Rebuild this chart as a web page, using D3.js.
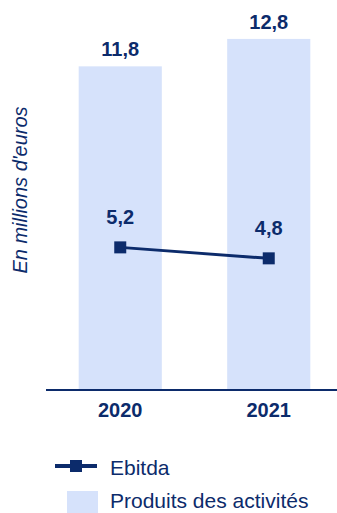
<!DOCTYPE html>
<html>
<head>
<meta charset="utf-8">
<script src="https://cdn.jsdelivr.net/npm/d3@7"></script>
<style>
  html, body { margin: 0; padding: 0; background: #fff; }
  svg { display: block; font-family: "Liberation Sans", Arial, sans-serif; }
</style>
</head>
<body>
<div id="chart"></div>
<script>
// Data
const years = ['2020', '2021'];
const produits = [11.8, 12.8];   // Produits des activités (bars)
const ebitda = [5.2, 4.8];       // Ebitda (line)
const yDomain = [0, 14];

const navy = '#0c2b6b';
const barFill = '#d6e2fb';

const width = 337, height = 513;
const baseY = 390;

const svg = d3.select('#chart')
    .append('svg')
    .attr('width', width)
    .attr('height', height);

const x = d3.scaleBand()
    .domain(years)
    .range([46, 343])
    .paddingInner(0.44)
    .paddingOuter(0.22);

const y = d3.scaleLinear()
    .domain(yDomain)
    .range([baseY, 6]);

const fmt = v => v.toFixed(1).replace('.', ',');

// Bars
svg.selectAll('rect.bar')
    .data(produits)
    .enter()
    .append('rect')
    .attr('class', 'bar')
    .attr('x', (d, i) => x(years[i]))
    .attr('y', d => y(d))
    .attr('width', x.bandwidth())
    .attr('height', d => y(0) - y(d))
    .attr('fill', barFill);

// Bar labels
svg.selectAll('text.bar-label')
    .data(produits)
    .enter()
    .append('text')
    .attr('class', 'bar-label')
    .attr('x', (d, i) => x(years[i]) + x.bandwidth() / 2)
    .attr('y', d => y(d) - 10)
    .attr('text-anchor', 'middle')
    .attr('fill', navy)
    .style('font-size', '20px')
    .style('font-weight', 'bold')
    .text(fmt);

// X axis
const xAxis = svg.append('g')
    .attr('transform', `translate(0, ${baseY})`)
    .call(d3.axisBottom(x).tickSize(0).tickPadding(13));
xAxis.select('.domain').remove();
xAxis.selectAll('text')
    .attr('fill', navy)
    .style('font-size', '20px')
    .style('font-weight', 'bold')
    .style('font-family', 'inherit');

svg.append('line')
    .attr('x1', 46)
    .attr('x2', width)
    .attr('y1', baseY)
    .attr('y2', baseY)
    .attr('stroke', navy)
    .attr('stroke-width', 2);

// Ebitda line
const cx = (d, i) => x(years[i]) + x.bandwidth() / 2;
const line = d3.line()
    .x(cx)
    .y(d => y(d));

svg.append('path')
    .datum(ebitda)
    .attr('d', line)
    .attr('fill', 'none')
    .attr('stroke', navy)
    .attr('stroke-width', 3);

svg.selectAll('rect.marker')
    .data(ebitda)
    .enter()
    .append('rect')
    .attr('class', 'marker')
    .attr('x', (d, i) => cx(d, i) - 6)
    .attr('y', d => y(d) - 6)
    .attr('width', 12)
    .attr('height', 12)
    .attr('fill', navy);

svg.selectAll('text.line-label')
    .data(ebitda)
    .enter()
    .append('text')
    .attr('class', 'line-label')
    .attr('x', cx)
    .attr('y', d => y(d) - 23)
    .attr('text-anchor', 'middle')
    .attr('fill', navy)
    .style('font-size', '20px')
    .style('font-weight', 'bold')
    .text(fmt);

// Y axis title
svg.append('text')
    .attr('transform', 'translate(27, 190) rotate(-90)')
    .attr('text-anchor', 'middle')
    .attr('fill', navy)
    .style('font-size', '20px')
    .style('font-style', 'italic')
    .text("En millions d'euros");

// Legend
const legend = svg.append('g');
legend.append('line')
    .attr('x1', 55).attr('x2', 97)
    .attr('y1', 466).attr('y2', 466)
    .attr('stroke', navy)
    .attr('stroke-width', 4);
legend.append('rect')
    .attr('x', 70).attr('y', 460)
    .attr('width', 12).attr('height', 12)
    .attr('fill', navy);
legend.append('text')
    .attr('x', 110).attr('y', 475)
    .attr('fill', navy)
    .style('font-size', '21px')
    .text('Ebitda');

legend.append('rect')
    .attr('x', 67).attr('y', 491)
    .attr('width', 31).attr('height', 22)
    .attr('fill', barFill);
legend.append('text')
    .attr('x', 110).attr('y', 508)
    .attr('fill', navy)
    .style('font-size', '21px')
    .text('Produits des activités');
</script>
</body>
</html>
